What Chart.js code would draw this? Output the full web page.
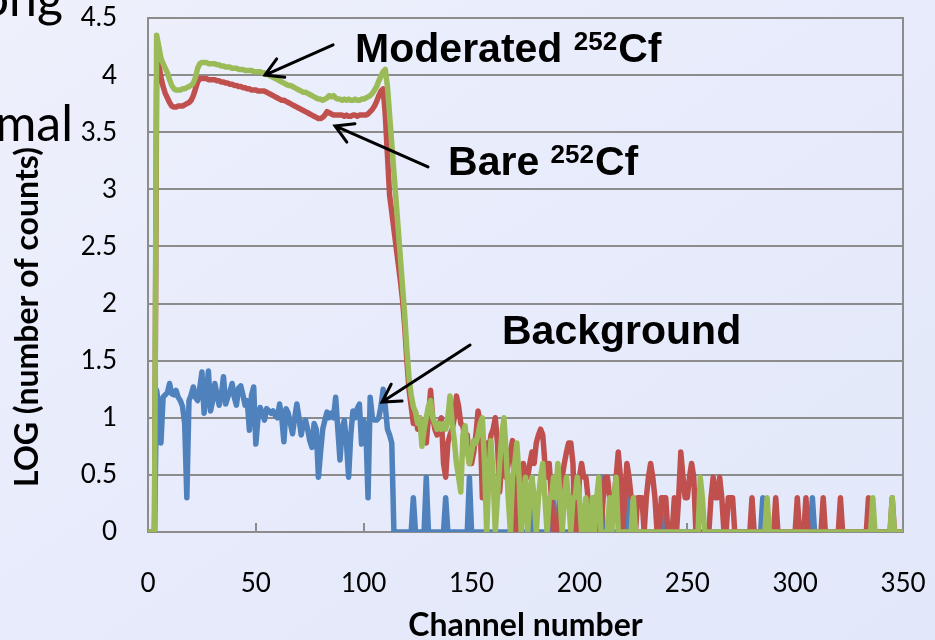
<!DOCTYPE html>
<html>
<head>
<meta charset="utf-8">
<script src="https://cdn.jsdelivr.net/npm/chart.js@4.4.1/dist/chart.umd.min.js"></script>
<style>
html,body{margin:0;padding:0;}
body{width:935px;height:640px;overflow:hidden;background:linear-gradient(to bottom right,#eef0fb 0%,#e7ebfb 50%,#e2e8fa 100%);}
canvas{display:block;}
</style>
</head>
<body>
<canvas id="c" width="935" height="640"></canvas>
<script>
// ---- DATA (index of each value = channel number, channels 0..350) ----
const seriesNames = ['Moderated 252Cf', 'Bare 252Cf', 'Background'];

const moderated = [
  0,0,0,0,4.35,4.25,4.15,4.10,4.06,4.02,
  3.96,3.91,3.88,3.87,3.87,3.87,3.88,3.88,3.89,3.90,
  3.91,3.93,3.98,4.06,4.10,4.11,4.11,4.11,4.10,4.10,
  4.10,4.10,4.09,4.09,4.08,4.08,4.07,4.07,4.07,4.06,
  4.06,4.06,4.05,4.05,4.05,4.04,4.04,4.04,4.04,4.03,
  4.03,4.03,4.03,4.02,4.02,4.01,4.00,3.99,3.98,3.97,
  3.96,3.95,3.94,3.93,3.92,3.91,3.91,3.90,3.89,3.88,
  3.87,3.86,3.85,3.85,3.84,3.83,3.82,3.81,3.80,3.79,
  3.79,3.78,3.79,3.80,3.82,3.81,3.82,3.80,3.79,3.79,
  3.78,3.79,3.78,3.79,3.78,3.78,3.79,3.78,3.78,3.79,
  3.79,3.80,3.81,3.82,3.84,3.87,3.90,3.95,3.99,4.03,
  4.05,3.90,3.65,3.40,3.15,2.90,2.65,2.40,2.15,1.90,
  1.60,1.35,1.20,1.10,1.05,0.95,1.00,0.75,0.90,1.00,
  1.10,1.15,1.00,0.95,0.90,0.95,0.90,0.95,0.90,1.00,
  1.19,0.95,0.80,0.60,0.48,0.35,0.85,0.93,0.70,0.60,
  0.70,0.80,0.78,0.85,0.95,1.00,0.60,0,0.48,0.80,
  0.48,0,0.30,0.60,0.85,1.00,0.70,0.30,0,0.48,
  0.60,0.78,0.48,0,0.30,0.48,0,0.30,0.48,0.30,
  0,0.30,0.48,0.60,0.30,0,0.30,0.30,0.48,0.30,
  0.60,0.30,0,0.30,0.48,0.30,0,0.30,0.30,0.48,
  0.30,0,0,0.30,0,0,0.30,0,0.30,0.48,
  0,0,0,0,0.30,0,0.30,0.48,0,0,
  0,0,0,0,0,0.30,0,0,0,0,
  0,0,0,0,0,0,0,0,0,0,
  0,0,0,0,0,0,0,0,0,0,
  0,0,0,0,0,0,0.48,0.30,0,0,
  0,0,0,0,0,0,0,0,0,0,
  0,0,0,0,0,0,0,0,0,0,
  0,0,0,0,0,0,0,0.30,0,0,
  0,0,0,0,0,0,0,0,0,0,
  0,0,0,0,0,0,0,0,0,0,
  0,0,0,0,0,0,0,0,0,0,
  0,0,0,0,0,0,0,0,0,0,
  0,0,0,0,0,0,0.30,0,0,0,
  0,0,0,0,0,0.30,0,0,0,0,
  0
];

const bare = [
  0,0,0,0,3.95,4.10,3.98,3.90,3.84,3.80,
  3.76,3.73,3.72,3.72,3.73,3.73,3.73,3.74,3.75,3.76,
  3.78,3.82,3.88,3.94,3.97,3.97,3.97,3.97,3.96,3.96,
  3.96,3.96,3.95,3.95,3.94,3.94,3.93,3.93,3.92,3.92,
  3.91,3.91,3.90,3.90,3.89,3.89,3.88,3.88,3.87,3.87,
  3.87,3.86,3.86,3.86,3.86,3.85,3.84,3.83,3.82,3.81,
  3.80,3.79,3.78,3.78,3.77,3.76,3.75,3.74,3.73,3.72,
  3.71,3.70,3.69,3.68,3.67,3.66,3.65,3.64,3.63,3.62,
  3.62,3.63,3.65,3.68,3.67,3.66,3.65,3.65,3.65,3.65,
  3.65,3.64,3.65,3.64,3.64,3.65,3.65,3.64,3.65,3.65,
  3.65,3.65,3.66,3.68,3.70,3.73,3.77,3.82,3.86,3.88,
  3.65,3.30,2.95,2.80,2.65,2.50,2.35,2.20,2.03,1.80,
  1.50,1.25,1.10,0.95,1.05,0.90,1.00,0.85,0.95,0.78,
  1.00,1.24,1.00,0.90,0.85,0.95,1.00,0.60,0.48,0.78,
  0.85,0.90,1.00,1.19,1.10,0.95,0.93,0.78,0.85,0.60,
  0.60,0.70,0.85,1.06,0.95,0.30,0.60,0.78,0.70,0.85,
  0.90,1.00,0.78,0.35,0.60,0.70,0.48,0.60,0.70,0.80,
  0.48,0,0.30,0.48,0.60,0.48,0.48,0.60,0.70,0.60,
  0.78,0.85,0.90,0.85,0.60,0.48,0.60,0.30,0,0,
  0,0.30,0.48,0.60,0.70,0.78,0.78,0.60,0,0,
  0.48,0.60,0.48,0.48,0.30,0,0,0.30,0.30,0,
  0,0.30,0.48,0.48,0.30,0.30,0.30,0.48,0.70,0.48,
  0,0.30,0.60,0.48,0.30,0.30,0,0.30,0.30,0.30,
  0,0.30,0.48,0.60,0.48,0.30,0,0,0.30,0.30,
  0.30,0,0,0,0.30,0,0.30,0.70,0.48,0.30,
  0.30,0.48,0.60,0.48,0,0,0,0,0,0,
  0,0.30,0.48,0.30,0.30,0.48,0.30,0,0,0.30,
  0.30,0.30,0,0,0,0,0,0,0,0,
  0.30,0,0,0,0,0,0,0,0,0,
  0,0.30,0,0,0,0,0,0,0,0,
  0,0.30,0,0,0,0.30,0,0,0,0,
  0,0,0,0.30,0,0,0,0,0,0,
  0,0.30,0,0,0,0,0,0,0,0,
  0,0,0,0,0.30,0,0,0,0,0,
  0,0,0,0,0,0.30,0,0,0,0,
  0
];

const background = [
  0,0,0,0,1.24,1.10,0.78,1.18,1.20,1.22,
  1.30,1.21,1.20,1.24,1.18,1.15,1.10,0.95,0.30,1.15,
  1.20,1.27,1.18,1.15,1.26,1.40,1.04,1.20,1.41,1.06,
  1.15,1.30,1.20,1.11,1.20,1.36,1.12,1.18,1.23,1.30,
  1.18,1.11,1.26,1.28,1.20,1.11,1.15,0.89,1.20,1.27,
  0.77,1.00,1.09,1.04,0.98,1.08,1.06,1.04,1.06,1.02,
  1.00,1.12,1.00,0.79,1.08,1.04,0.95,0.86,1.00,1.12,
  1.00,0.85,0.95,0.98,0.90,0.80,0.74,0.95,0.90,0.48,
  0.70,0.90,0.98,1.05,1.00,1.04,1.00,1.18,0.90,0.63,
  0.90,0.98,0.78,0.48,0.85,1.06,1.00,1.08,1.12,0.77,
  0.98,0.90,0.30,1.18,1.00,0.98,0.98,1.00,1.10,1.25,
  1.10,0.90,0.85,0.78,0,0,0,0,0,0,
  0,0,0,0.30,0,0,0,0,0,0.48,
  0,0,0,0,0,0,0,0,0.30,0,
  0,0,0,0,0,0,0,0,0,0.48,
  0,0,0,0,0,0,0,0,0,0,
  0,0,0,0,0,0,0,0,0,0.30,
  0,0,0,0,0,0,0,0,0.48,0,
  0,0,0,0,0,0,0,0,0.30,0,
  0,0,0,0,0,0,0,0,0,0,
  0,0,0,0,0,0,0,0,0,0,
  0.48,0,0,0,0,0,0,0,0,0,
  0,0,0.48,0,0,0,0,0,0,0,
  0,0,0,0,0,0,0,0,0,0.30,
  0,0,0,0,0,0,0,0,0,0,
  0,0,0,0,0,0,0,0,0,0,
  0,0,0,0,0,0,0,0,0,0,
  0,0,0,0,0,0,0,0,0,0,
  0,0,0,0,0,0.30,0,0,0,0,
  0,0,0,0,0,0,0,0,0,0,
  0,0,0,0,0,0,0,0,0.30,0,
  0,0,0,0,0,0,0,0,0,0,
  0,0,0,0,0,0,0,0,0,0,
  0,0,0,0,0,0,0,0,0,0,
  0,0,0,0,0,0,0,0,0,0,
  0
];

const xTicks = [0, 50, 100, 150, 200, 250, 300, 350];
const yTicks = [0, 0.5, 1, 1.5, 2, 2.5, 3, 3.5, 4, 4.5];
const xTitle = 'Channel number';
const yTitle = 'LOG (number of counts)';

// annotations (label anchor in data units: channel, log counts)
const labelTexts = [
  {main: 'Moderated ', sup: '252', tail: 'Cf', at: [96.0, 4.116]},
  {main: 'Bare ', sup: '252', tail: 'Cf', at: [139.1, 3.126]},
  {main: 'Background', sup: '', tail: '', at: [164.1, 1.646]}
];
const arrows = [
  {from: [85.8, 4.265], to: [54.2, 4.0]},
  {from: [129.8, 3.196], to: [86.7, 3.555]},
  {from: [149.3, 1.637], to: [108.5, 1.138]}
];

const toPoints = arr => arr.map((v, ch) => ({x: ch, y: v}));

const GRID = '#8c8c8c';
const FONT = 'Lato, "Noto Sans", sans-serif';

const framePlugin = {
  id: 'frame',
  beforeDatasetsDraw(chart) {
    const {ctx, chartArea: a, scales: {x}} = chart;
    ctx.save();
    ctx.strokeStyle = GRID;
    ctx.lineWidth = 2;
    ctx.beginPath();
    ctx.moveTo(a.right, a.top - 1);
    ctx.lineTo(a.right, a.bottom);
    xTicks.forEach(t => {
      const px = Math.round(x.getPixelForValue(t));
      ctx.moveTo(px, a.bottom);
      ctx.lineTo(px, a.bottom - 9);
    });
    ctx.stroke();
    ctx.restore();
  },
  afterDraw(chart) {
    const {ctx, chartArea: area, scales: {x, y}} = chart;
    ctx.save();
    // y axis title (rotated), placed a bit below the plot centre as in the original
    ctx.save();
    ctx.translate(28, (area.top + area.bottom) / 2 + 42);
    ctx.rotate(-Math.PI / 2);
    ctx.fillStyle = '#000';
    ctx.font = 'bold 32px ' + FONT;
    ctx.textAlign = 'center';
    ctx.textBaseline = 'middle';
    ctx.fillText(yTitle, 0, 0);
    ctx.restore();
    // arrows
    ctx.strokeStyle = '#000';
    ctx.lineWidth = 3;
    ctx.lineCap = 'round';
    arrows.forEach(a => {
      const x1 = x.getPixelForValue(a.from[0]), y1 = y.getPixelForValue(a.from[1]);
      const x2 = x.getPixelForValue(a.to[0]), y2 = y.getPixelForValue(a.to[1]);
      const ang = Math.atan2(y1 - y2, x1 - x2);
      const L = 20, spread = Math.PI / 6;
      ctx.beginPath();
      ctx.moveTo(x1, y1);
      ctx.lineTo(x2, y2);
      ctx.moveTo(x2 + L * Math.cos(ang + spread), y2 + L * Math.sin(ang + spread));
      ctx.lineTo(x2, y2);
      ctx.lineTo(x2 + L * Math.cos(ang - spread), y2 + L * Math.sin(ang - spread));
      ctx.stroke();
    });
    // labels
    ctx.fillStyle = '#000';
    ctx.textBaseline = 'alphabetic';
    ctx.textAlign = 'left';
    const big = 'bold 41px "Liberation Sans", Arial, sans-serif';
    const small = 'bold 26px "Liberation Sans", Arial, sans-serif';
    labelTexts.forEach(l => {
      let px = x.getPixelForValue(l.at[0]);
      const py = y.getPixelForValue(l.at[1]);
      ctx.font = big;
      ctx.fillText(l.main, px, py);
      px += ctx.measureText(l.main).width;
      if (l.sup) {
        ctx.font = small;
        ctx.fillText(l.sup, px, py - 12);
        px += ctx.measureText(l.sup).width + 1;
      }
      if (l.tail) {
        ctx.font = big;
        ctx.fillText(l.tail, px, py);
      }
    });
    // cropped slide text at the left edge
    ctx.font = '50px ' + FONT;
    ctx.textAlign = 'right';
    ctx.fillText('ong', 63, 16);
    ctx.fillText('mal', 73, 141);
    ctx.restore();
  }
};

const tickFont = {family: FONT, size: 26};
const titleFont = {family: FONT, size: 32, weight: 'bold', lineHeight: 1};
const fmt = v => String(v);

new Chart(document.getElementById('c'), {
  type: 'line',
  data: {
    datasets: [
      {label: seriesNames[0], data: toPoints(moderated), borderColor: '#9bbb59', backgroundColor: '#9bbb59'},
      {label: seriesNames[1], data: toPoints(bare), borderColor: '#c0504d', backgroundColor: '#c0504d'},
      {label: seriesNames[2], data: toPoints(background), borderColor: '#4f81bd', backgroundColor: '#4f81bd'}
    ]
  },
  options: {
    responsive: false,
    animation: false,
    parsing: false,
    layout: {padding: {top: 18, right: 32, left: 0, bottom: 0}},
    plugins: {legend: {display: false}, tooltip: {enabled: false}, title: {display: false}},
    elements: {
      point: {radius: 0, hoverRadius: 0},
      line: {tension: 0, borderWidth: 5.5, borderJoinStyle: 'round', borderCapStyle: 'round', fill: false}
    },
    scales: {
      x: {
        type: 'linear', min: 0, max: 350,
        afterFit(s) { s.height = 108; s.paddingLeft = 0; s.paddingRight = 0; },
        afterBuildTicks(s) { s.ticks = xTicks.map(v => ({value: v})); },
        ticks: {font: tickFont, color: '#000', padding: 36, maxRotation: 0, autoSkip: false, callback: fmt},
        grid: {drawOnChartArea: false, drawTicks: false, color: GRID, lineWidth: 2},
        border: {display: true, color: GRID, width: 2},
        title: {display: true, text: xTitle, font: titleFont, color: '#000', padding: {top: 0, bottom: -2}}
      },
      y: {
        type: 'linear', min: 0, max: 4.5,
        afterFit(s) { s.width = 148; s.paddingTop = 0; s.paddingBottom = 0; },
        afterBuildTicks(s) { s.ticks = yTicks.map(v => ({value: v})); },
        ticks: {font: tickFont, color: '#000', padding: 31, callback: fmt},
        grid: {drawTicks: false, color: GRID, lineWidth: 2},
        border: {display: true, color: GRID, width: 2},
        title: {display: false}
      }
    }
  },
  plugins: [framePlugin]
});
</script>
</body>
</html>
